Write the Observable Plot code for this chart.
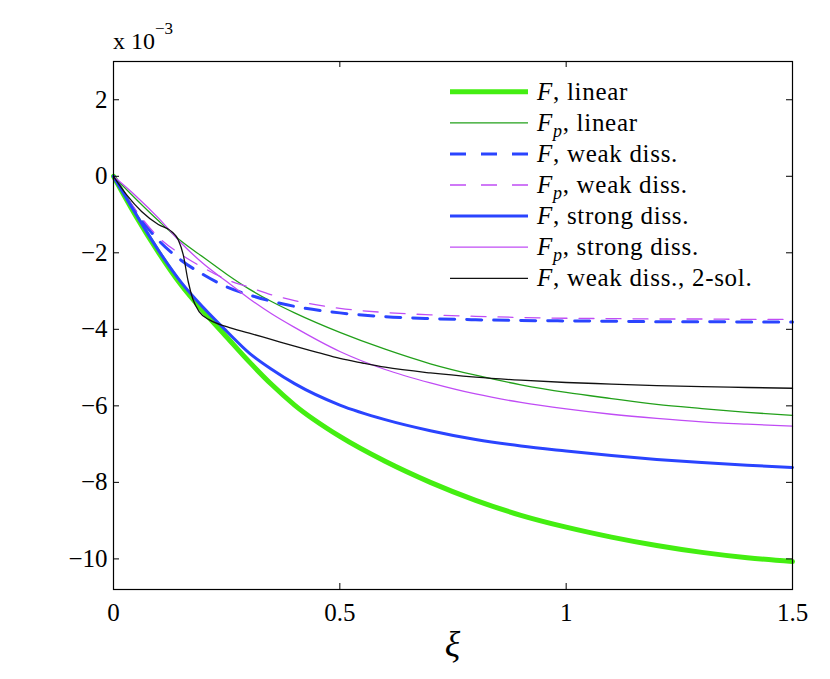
<!DOCTYPE html>
<html>
<head>
<meta charset="utf-8">
<script src="https://cdn.jsdelivr.net/npm/d3@7"></script>
<script src="https://cdn.jsdelivr.net/npm/@observablehq/plot@0.6"></script>
<style>
  html, body { margin: 0; padding: 0; background: white; }
  #chart { position: relative; width: 830px; height: 679px; }
  #chart svg, #chart svg text { font-family: 'Liberation Serif', 'DejaVu Serif', serif; }
</style>
</head>
<body>
<div id="chart"></div>
<script>
// ---- data (values in units of 1e-3) ----
const xi = [0, 0.05, 0.1, 0.15, 0.2, 0.25, 0.3, 0.35, 0.4, 0.5, 0.6, 0.7, 0.8, 0.9, 1.0, 1.1, 1.2, 1.3, 1.4, 1.5];
const F_linear      = [0, -1.05, -2.0, -2.85, -3.55, -4.2, -4.85, -5.45, -5.98, -6.8, -7.45, -8.0, -8.47, -8.86, -9.17, -9.43, -9.65, -9.83, -9.97, -10.07];
const Fp_linear     = [0, -0.6, -1.17, -1.7, -2.13, -2.56, -2.95, -3.28, -3.57, -4.08, -4.52, -4.9, -5.2, -5.45, -5.65, -5.81, -5.96, -6.07, -6.17, -6.25];
const F_weak        = [0, -0.95, -1.68, -2.2, -2.58, -2.89, -3.1, -3.27, -3.4, -3.57, -3.67, -3.72, -3.75, -3.77, -3.78, -3.79, -3.8, -3.8, -3.81, -3.81];
const Fp_weak       = [0, -0.9, -1.6, -2.05, -2.4, -2.7, -2.9, -3.1, -3.25, -3.45, -3.56, -3.62, -3.66, -3.69, -3.71, -3.72, -3.73, -3.73, -3.74, -3.74];
const F_strong      = [0, -1.0, -1.95, -2.78, -3.45, -4.05, -4.62, -5.05, -5.42, -5.98, -6.36, -6.65, -6.88, -7.05, -7.18, -7.3, -7.4, -7.48, -7.55, -7.61];
const Fp_strong     = [0, -0.52, -1.1, -1.75, -2.3, -2.75, -3.2, -3.6, -3.95, -4.58, -5.05, -5.4, -5.69, -5.91, -6.08, -6.22, -6.33, -6.42, -6.48, -6.53];
const xi_2sol       = [0, 0.03, 0.062, 0.099, 0.128, 0.143, 0.154, 0.165, 0.175, 0.19, 0.213, 0.25, 0.3, 0.35, 0.4, 0.45, 0.5, 0.55, 0.6, 0.7, 0.8, 0.9, 1.0, 1.1, 1.2, 1.3, 1.4, 1.5];
const F_weak_2sol   = [0, -0.5, -0.92, -1.26, -1.44, -1.66, -2.05, -2.75, -3.2, -3.55, -3.76, -3.93, -4.1, -4.27, -4.44, -4.6, -4.76, -4.88, -4.99, -5.14, -5.25, -5.33, -5.39, -5.43, -5.47, -5.5, -5.52, -5.54];

const xTicks = [0, 0.5, 1, 1.5];
const yTicks = [-10, -8, -6, -4, -2, 0, 2];

const seriesNames = ["F, linear", "Fp, linear", "F, weak diss.", "Fp, weak diss.", "F, strong diss.", "Fp, strong diss.", "F, weak diss., 2-sol."];

const rows = (xs, ys, name) => xs.map((x, i) => ({x, y: ys[i], name}));

const W = 830, H = 679;
const mL = 113, mR = 38, mT = 61, mB = 90;
const fw = W - mL - mR, fh = H - mT - mB;
const tickLen = 6;
const serif = "'Liberation Serif', 'DejaVu Serif', serif";

const styles = [
  {data: rows(xi, F_linear, seriesNames[0]),  stroke: "#44ee11", strokeWidth: 5},
  {data: rows(xi, Fp_linear, seriesNames[1]), stroke: "#22a01a", strokeWidth: 1.3},
  {data: rows(xi, F_weak, seriesNames[2]),    stroke: "#2a44ff", strokeWidth: 3, dash: "15,12"},
  {data: rows(xi, Fp_weak, seriesNames[3]),   stroke: "#c04cf5", strokeWidth: 1.3, dash: "15,12"},
  {data: rows(xi, F_strong, seriesNames[4]),  stroke: "#2a44ff", strokeWidth: 3},
  {data: rows(xi, Fp_strong, seriesNames[5]), stroke: "#c04cf5", strokeWidth: 1.3},
  {data: rows(xi_2sol, F_weak_2sol, seriesNames[6]), stroke: "#111111", strokeWidth: 1.3}
];

const lineMarks = styles.map(s => Plot.line(s.data, {
  x: "x", y: "y", stroke: s.stroke, strokeWidth: s.strokeWidth,
  strokeDasharray: s.dash, curve: "monotone-x"
}));

const plot = Plot.plot({
  width: W, height: H,
  marginLeft: mL, marginRight: mR, marginTop: mT, marginBottom: mB,
  style: {fontFamily: serif, background: "white", color: "black", overflow: "visible"},
  x: {domain: [0, 1.5]},
  y: {domain: [-10.8, 3]},
  marks: [
    ...lineMarks,
    Plot.frame({stroke: "black", strokeWidth: 1.2}),
    // inward ticks on all four sides
    Plot.tickY(yTicks, {y: d => d, stroke: "black", insetRight: fw - tickLen}),
    Plot.tickY(yTicks, {y: d => d, stroke: "black", insetLeft: fw - tickLen}),
    Plot.tickX(xTicks, {x: d => d, stroke: "black", insetTop: fh - tickLen}),
    Plot.tickX(xTicks, {x: d => d, stroke: "black", insetBottom: fh - tickLen}),
    Plot.axisY(yTicks, {tickSize: 0, tickPadding: 6, fontSize: 25, tickFormat: d => d3.format("d")(d), label: null}),
    Plot.axisX(xTicks, {tickSize: 0, tickPadding: 14, fontSize: 25, tickFormat: d => String(d), label: null})
  ]
});

document.getElementById("chart").appendChild(plot);

// ---- annotations: exponent label, x-axis label, legend ----
const svg = d3.select(plot);
svg.attr("font-family", serif);
const g = svg.append("g").attr("font-family", serif).attr("fill", "black").attr("text-anchor", "start");

const expo = g.append("text").attr("x", mL).attr("y", 49).attr("font-size", 24).attr("text-anchor", "start");
expo.append("tspan").text("x 10");
expo.append("tspan").attr("font-size", 17).attr("dy", -15).text("−3");

g.append("text").attr("x", mL + fw / 2).attr("y", 656).attr("text-anchor", "middle")
  .attr("font-size", 36).attr("font-style", "italic").text("ξ");

const legY0 = 91.7, legDy = 31.1, legX1 = 450, legX2 = 528, legTX = 537;
styles.forEach((s, i) => {
  const y = legY0 + i * legDy;
  g.append("line").attr("x1", legX1).attr("x2", legX2).attr("y1", y).attr("y2", y)
    .attr("stroke", s.stroke).attr("stroke-width", s.strokeWidth)
    .attr("stroke-dasharray", s.dash ? "16,15" : null);
  const name = seriesNames[i];
  const isP = name.startsWith("Fp");
  const rest = name.slice(isP ? 2 : 1);
  const t = g.append("text").attr("x", legTX).attr("y", y + 8).attr("font-size", 25)
    .attr("letter-spacing", 0.7).attr("text-anchor", "start");
  t.append("tspan").attr("font-style", "italic").text("F");
  if (isP) {
    t.append("tspan").attr("font-style", "italic").attr("font-size", 18).attr("dy", 6).text("p");
    t.append("tspan").attr("dy", -6).text(rest);
  } else {
    t.append("tspan").text(rest);
  }
});
</script>
</body>
</html>
